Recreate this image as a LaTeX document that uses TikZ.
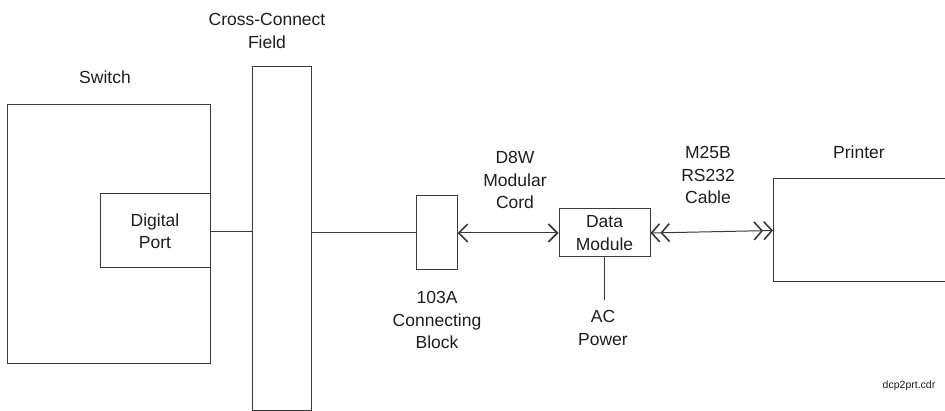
\documentclass[tikz,border=0pt]{standalone}
\usepackage{fontspec}
\setmainfont{Liberation Sans}
\usetikzlibrary{arrows.meta}
\definecolor{ln}{HTML}{3A3A3A}
\definecolor{tx}{HTML}{1E1E1E}
\begin{document}
\begin{tikzpicture}[x=1pt,y=-1pt,
  box/.style={draw=ln,line width=1pt,rectangle,inner sep=0pt,text=tx,align=center,font=\fontsize{17.5}{22.5}\selectfont},
  lbl/.style={text=tx,align=center,inner sep=0pt,font=\fontsize{17.5}{22.5}\selectfont},
  wire/.style={draw=ln,line width=1pt}
]
\useasboundingbox[fill=white] (0,0) rectangle (945,411);
\node[box,minimum width=203pt,minimum height=259pt] (switch) at (108.5,234.5) {};
\node[box,fill=white,minimum width=110pt,minimum height=74pt] (port) at (155,231) {Digital\\Port};
\node[box,minimum width=59pt,minimum height=343pt] (field) at (281.5,238.5) {};
\node[box,minimum width=41pt,minimum height=74pt] (block) at (436.5,233) {};
\node[box,minimum width=91pt,minimum height=48pt] (dm) at (604.5,233) {Data\\Module};
\node[box,minimum width=200pt,minimum height=103pt,anchor=west] (printer) at (773,230.5) {};
\coordinate (ac) at (dm.south |- 0,300);

\draw[wire] (port.east |- 0,232) -- (field.west |- 0,232);
\draw[wire] (field.east |- 0,233) -- (block.west |- 0,233);
\draw[wire,{Straight Barb[length=9pt,width=18pt,line width=1.6pt]}-{Straight Barb[length=9pt,width=18pt,line width=1.6pt]}] (block.east) -- (dm.west);
\draw[wire,{Straight Barb[length=8pt,width=18pt,line width=1.6pt,sep=0pt]Straight Barb[length=8pt,width=18pt,line width=1.6pt]}-{Straight Barb[length=8pt,width=18pt,line width=1.6pt,sep=0pt]Straight Barb[length=8pt,width=18pt,line width=1.6pt]}] (dm.east) -- (printer.west);
\draw[wire] (dm.south) -- (ac);

\node[lbl] (lsw) at (105,77) {Switch};
\node[lbl] (lcc) at (267,31) {Cross-Connect\\Field};
\node[lbl] (ld8) at (515,180) {D8W\\Modular\\Cord};
\node[lbl] (lm25) at (708,175) {M25B\\RS232\\Cable};
\node[lbl] (lpr) at (859,152) {Printer};
\node[lbl] (l103) at (437,320) {103A\\Connecting\\Block};
\node[lbl] (lac) at (603,328) {AC\\Power};
\node[text=tx,inner sep=0pt,font=\fontsize{10.5}{12}\selectfont] (lfile) at (909,386) {dcp2prt.cdr};
\end{tikzpicture}
\end{document}
